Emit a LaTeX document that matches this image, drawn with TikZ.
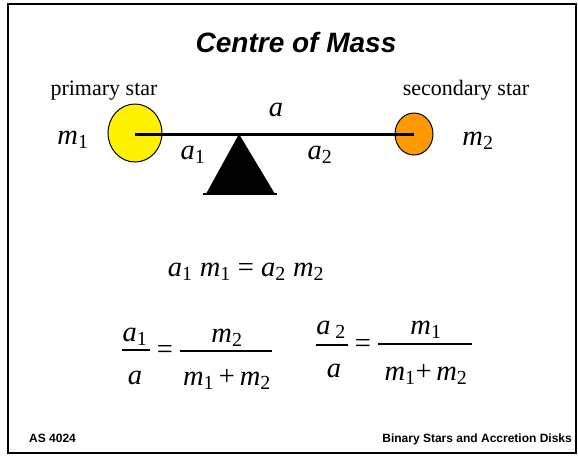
\documentclass[tikz,border=0pt]{standalone}
\usepackage{fontspec}
\setmainfont{Liberation Serif}
\setsansfont{Liberation Sans}
\usepackage{tikz}
\usetikzlibrary{shapes.geometric,positioning}

\newcommand\isub[2]{\textit{#1}\textsubscript{#2}}

\begin{document}
\begin{tikzpicture}[
    x=1pt, y=-1pt,
    lbl/.style={font=\fontsize{22}{24}\selectfont, inner sep=0pt},
    mth/.style={font=\fontsize{28.5}{31}\selectfont, inner sep=0pt},
    ttl/.style={font=\sffamily\bfseries\itshape\fontsize{28}{31}\selectfont, inner sep=0pt},
    foot/.style={font=\sffamily\bfseries\fontsize{12}{14}\selectfont, inner sep=0pt},
    star/.style={ellipse, draw, line width=1pt, inner sep=0pt},
    beam/.style={line width=3pt},
    fbar/.style={line width=1.3pt},
    ]
\useasboundingbox (0,0) rectangle (578,456);
\draw[line width=2pt] (8,4) rectangle (576,453);

\node[ttl, anchor=base] (title) at (296,52) {Centre of Mass};

% the two stars on the beam
\node[lbl, anchor=base] (prim) at (104,95) {primary star};
\node[lbl, anchor=base] (sec) at (466,95) {secondary star};
\node[star, fill=yellow, minimum width=54pt, minimum height=58pt] (s1) at (135,133) {};
\node[star, fill={rgb,255:red,255;green,153;blue,0}, minimum width=38pt, minimum height=42pt] (s2) at (414,134) {};
\draw[beam] (s1.center |- 0,134) -- (s2.center);

% pivot
\coordinate (pivot) at (239,134);
\coordinate (bl) at (206,194);
\coordinate (br) at (275,194);
\fill (pivot) -- (bl) -- (br) -- cycle;
\draw[line width=2pt] ([xshift=-3pt]bl) -- ([xshift=2pt]br);

\node[mth, anchor=base] (m1) at (73,144) {\isub{m}{1}};
\node[mth, anchor=base] (a) at (276,116) {\textit{a}};
\node[mth, anchor=base] (a1) at (193,159) {\isub{a}{1}};
\node[mth, anchor=base] (a2) at (320,159) {\isub{a}{2}};
\node[mth, anchor=base] (m2) at (478,145) {\isub{m}{2}};

\node[mth, anchor=base] (law) at (246,276) {\isub{a}{1} \isub{m}{1} = \isub{a}{2} \isub{m}{2}};

% first ratio
\node[mth, anchor=base] (n1) at (135,341) {\isub{a}{1}};
\draw[fbar] (122,350) -- (150,350);
\node[mth, anchor=base] (d1) at (135,384) {\textit{a}};
\node[mth, anchor=base] (eq1) at (165,358) {=};
\node[mth, anchor=base] (n2) at (227,342) {\isub{m}{2}};
\draw[fbar] (180,351) -- (272,351);
\node[mth, anchor=base] (d2) at (227,385) {\isub{m}{1}\,+\,\isub{m}{2}};

% second ratio
\node[mth, anchor=base] (n3) at (331,334) {\textit{a}\,\textsubscript{2}};
\draw[fbar] (316,345) -- (348,345);
\node[mth, anchor=base] (d3) at (334,377) {\textit{a}};
\node[mth, anchor=base] (eq2) at (363,352) {=};
\node[mth, anchor=base] (n4) at (426,334) {\isub{m}{1}};
\draw[fbar] (378,344) -- (472,344);
\node[mth, anchor=base] (d4) at (426,380) {\isub{m}{1}+\,\isub{m}{2}};

\node[foot, anchor=base west] (course) at (29,442) {AS 4024};
\node[foot, anchor=base east] (topic) at (572,442) {Binary Stars and Accretion Disks};
\end{tikzpicture}
\end{document}
